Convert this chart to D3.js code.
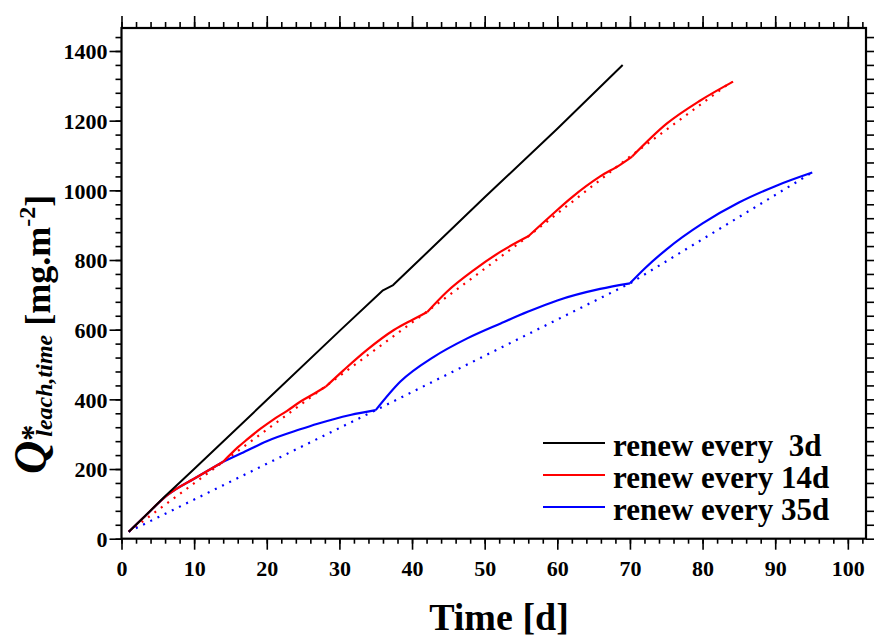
<!DOCTYPE html>
<html><head><meta charset="utf-8">
<script src="https://cdn.jsdelivr.net/npm/d3@7"></script>
<style>
body{margin:0;background:#fff;}
svg{display:block;}
text{font-family:"Liberation Serif","Times New Roman",serif;font-weight:bold;}
</style></head>
<body><svg id="c" width="875" height="637"></svg>
<script>
// ---- data ----
const blackT = [1,3,6,10,20,30.1,36,37.4,41,50,60,69];
const blackV = [20,60,122,200,398,598,713,728,800,980,1177,1360];

const redT = [1,3,6.3,10.4,14,15,16,17.3,19.1,20.9,22.8,24.6,26.5,28.1,30.6,33.8,37.5,40.2,42.1,44.8,48.5,52.2,56,59,62,65.9,68.7,70.3,75.1,79.7,84.2];
const redV = [20,60,125,177,221,242,262,285,315,342,367,393,416,436,484,542,599,630,651,709,771,824,868,925,980,1040,1074,1097,1192,1258,1312];
const redRenew = [14,28.1,42.1,56,70.3];

const blueT = [1,3,6.3,10.4,14,16.5,20,24.6,27,29.2,31.5,35,38.4,43,47.6,52.2,56,60,65.9,70,72,75,80,85,90,95.1];
const blueV = [20,60,125,177,221,245,280,314,330,343,355,369,451,522,575,618,652,684,717,733,775,830,905,965,1012,1051];
const blueRenew = [14,35,70];

const redDotT = [1,14,28,42,56,70,84];
const redDotV = [20,221,436,651,868,1097,1312];
const blueDotT = [1,35,70,95];
const blueDotV = [20,369,733,1050];

const xMajor = [0,10,20,30,40,50,60,70,80,90,100];
const yMajor = [0,200,400,600,800,1000,1200,1400];
const legendLabels = ["renew every \u00a03d","renew every 14d","renew every 35d"];
const legendColors = ["#000000","#ff0000","#0000ff"];

// ---- layout ----
const L=121.5, R=866, T=28, B=538.7;
const x = d3.scaleLinear().domain([0,102.5]).range([L,R]);
const y = d3.scaleLinear().domain([0,1466]).range([B,T]);
const xMinor = d3.range(0,103,2);
const yMinor = d3.range(0,1441,40);

const svg = d3.select("#c");

function axis(gen, tr, tv, size){
  const g = svg.append("g").attr("transform",tr).call(gen.tickValues(tv).tickSize(size).tickFormat("").tickSizeOuter(0));
  g.select(".domain").remove();
  g.selectAll("line").attr("stroke","#000").attr("stroke-width",1.6);
  g.selectAll("text").remove();
  return g;
}
axis(d3.axisBottom(x), `translate(0,${B})`, xMinor, 5);
axis(d3.axisBottom(x), `translate(0,${B})`, xMajor, 11);
axis(d3.axisTop(x), `translate(0,${T})`, xMinor, 6);
axis(d3.axisTop(x), `translate(0,${T})`, xMajor, 12);
axis(d3.axisLeft(y), `translate(${L},0)`, yMinor, 6);
axis(d3.axisLeft(y), `translate(${L},0)`, yMajor, 12);
axis(d3.axisRight(y), `translate(${R},0)`, yMinor, 8);

svg.append("rect").attr("x",L).attr("y",T).attr("width",R-L).attr("height",B-T)
  .attr("fill","none").attr("stroke","#000").attr("stroke-width",2.2);

const xl = svg.append("g").attr("transform",`translate(0,${B})`)
  .call(d3.axisBottom(x).tickValues(xMajor).tickSize(0).tickPadding(0).tickFormat(d3.format("d")));
xl.select(".domain").remove();
xl.selectAll("text").attr("y",37).attr("dy",null).attr("font-size",22).attr("fill","#000")
  .style("font-family",'"Liberation Serif",serif').style("font-weight","bold");

const yl = svg.append("g").attr("transform",`translate(${L},0)`)
  .call(d3.axisLeft(y).tickValues(yMajor).tickSize(0).tickFormat(d3.format("d")));
yl.select(".domain").remove();
yl.selectAll("text").attr("x",-14).attr("dy","0.36em").attr("font-size",22).attr("fill","#000")
  .style("font-family",'"Liberation Serif",serif').style("font-weight","bold");

const line = d3.line().x(d=>x(d[0])).y(d=>y(d[1]));
const sline = d3.line().x(d=>x(d[0])).y(d=>y(d[1])).curve(d3.curveMonotoneX);
const zip=(a,b)=>a.map((v,i)=>[v,b[i]]);

// split a series at its renewal days, each piece drawn as a smooth curve
function segments(ts, vs, cuts){
  const pts = zip(ts,vs), out=[]; let cur=[];
  pts.forEach(p=>{
    cur.push(p);
    if(cuts.includes(p[0])){ out.push(cur); cur=[p]; }
  });
  if(cur.length>1) out.push(cur);
  return out;
}
function drawSeg(ts,vs,cuts,color,w){
  const g = svg.append("g");
  segments(ts,vs,cuts).forEach(s=>{
    g.append("path").datum(s).attr("d",sline).attr("fill","none")
      .attr("stroke",color).attr("stroke-width",w).attr("stroke-linejoin","round");
  });
}

svg.append("path").datum(zip(redDotT,redDotV)).attr("d",line).attr("fill","none")
  .attr("stroke","#ff0000").attr("stroke-width",2.2).attr("stroke-dasharray","2,6");
svg.append("path").datum(zip(blueDotT,blueDotV)).attr("d",line).attr("fill","none")
  .attr("stroke","#0000ff").attr("stroke-width",2.2).attr("stroke-dasharray","2,6");
drawSeg(blueT,blueV,blueRenew,"#0000ff",2.2);
drawSeg(redT,redV,redRenew,"#ff0000",2.2);
svg.append("path").datum(zip(blackT,blackV)).attr("d",line).attr("fill","none")
  .attr("stroke","#000000").attr("stroke-width",2).attr("stroke-linejoin","round");

const lg = svg.append("g");
const ly = [443,475,507];
legendLabels.forEach((s,i)=>{
  lg.append("line").attr("x1",543).attr("x2",605).attr("y1",ly[i]).attr("y2",ly[i])
    .attr("stroke",legendColors[i]).attr("stroke-width",2);
  lg.append("text").attr("x",613).attr("y",ly[i]+13).attr("font-size",31).attr("fill","#000")
    .text(s);
});

svg.append("text").attr("x",499).attr("y",630).attr("text-anchor","middle")
  .attr("font-size",38).text("Time [d]");

const yt = svg.append("text").attr("transform","translate(46,474) rotate(-90)")
  .attr("text-anchor","start").attr("font-size",36);
yt.append("tspan").attr("font-style","italic").attr("font-size",46).text("Q");
yt.append("tspan").attr("font-size",32).attr("dy",-3).text("*");
yt.append("tspan").attr("font-style","italic").attr("font-size",24).attr("dx",-12).attr("dy",9).text("leach,time");
yt.append("tspan").attr("dy",-2).text(" [mg.m");
yt.append("tspan").attr("font-size",24).attr("dy",-15).text("-2");
yt.append("tspan").attr("dy",15).text("]");
</script></body></html>
